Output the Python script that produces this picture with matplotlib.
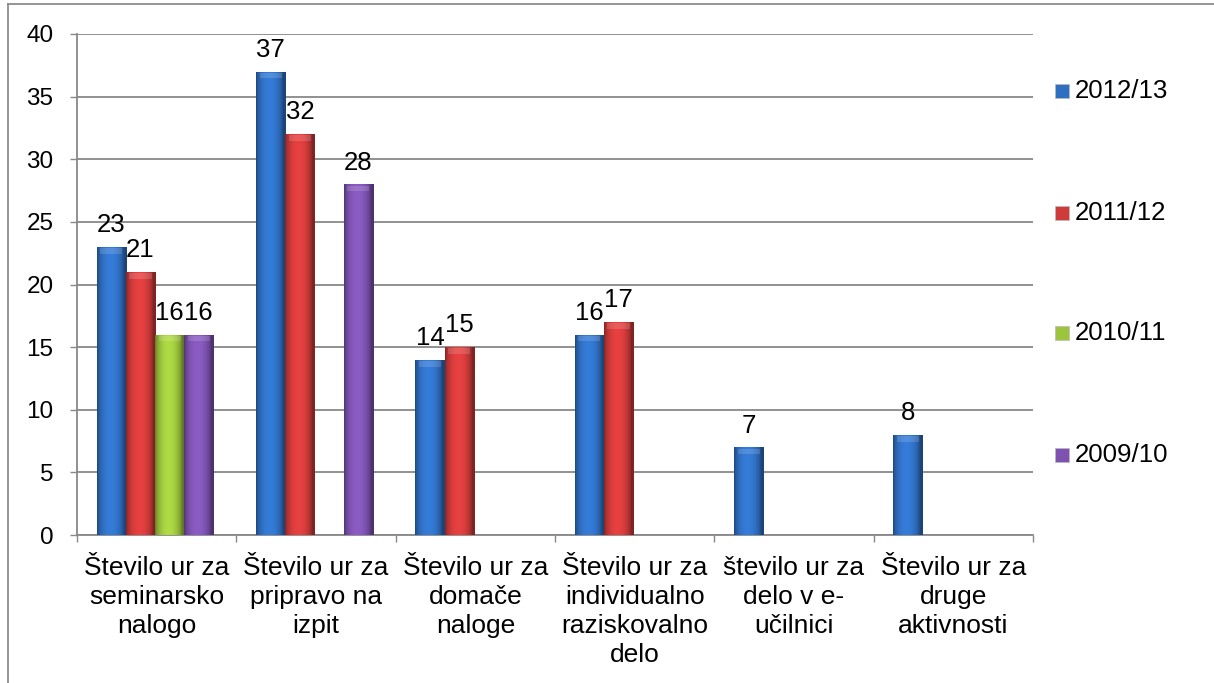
import matplotlib
matplotlib.use("Agg")
import matplotlib.pyplot as plt
import numpy as np
from matplotlib.patches import Rectangle
from matplotlib.lines import Line2D

plt.rcParams['font.family'] = ['Liberation Sans', 'DejaVu Sans']

categories = [
    "Število ur za\nseminarsko\nnalogo",
    "Število ur za\npripravo na\nizpit",
    "Število ur za\ndomače\nnaloge",
    "Število ur za\nindividualno\nraziskovalno\ndelo",
    "število ur za\ndelo v e-\nučilnici",
    "Število ur za\ndruge\naktivnosti",
]
series = ["2012/13", "2011/12", "2010/11", "2009/10"]
v_2012 = [23, 37, 14, 16, 7, 8]
v_2011 = [21, 32, 15, 17, None, None]
v_2010 = [16, None, None, None, None, None]
v_2009 = [16, 28, None, None, None, None]
values = [v_2012, v_2011, v_2010, v_2009]
colors = ["#2f6fc2", "#cf3a3a", "#9cc43c", "#7d52b0"]

W, H = 1214, 683


def shaded_bar(ax, x, w, h, color):
    rect = Rectangle((x - w / 2, 0), w, h, facecolor=color, edgecolor="none", zorder=3)
    ax.add_patch(rect)
    base = np.array(matplotlib.colors.to_rgb(color))
    t = np.linspace(0, 1, 60)
    shade = 0.62 + 0.5 * np.sin(np.pi * np.clip(t * 1.1, 0, 1)) ** 0.6
    img = np.clip(base[None, :] * shade[:, None], 0, 1)[None, :, :]
    im = ax.imshow(img, extent=(x - w / 2, x + w / 2, 0, h), aspect="auto",
                   interpolation="bilinear", zorder=3)
    im.set_clip_path(rect)
    # soft highlight on the rounded top
    cap = Rectangle((x - w / 2 + w * 0.12, h - 0.55), w * 0.76, 0.45, facecolor="white",
                    alpha=0.15, edgecolor="none", zorder=4)
    ax.add_patch(cap)


fig = plt.figure(figsize=(W / 100, H / 100), dpi=100)
ax = fig.add_axes([77 / W, 1 - 535 / H, (1033 - 77) / W, (535 - 34) / H])

bw = 0.183
x = np.arange(len(categories))
for si, (vals, col) in enumerate(zip(values, colors)):
    off = (si - 1.5) * bw
    for ci, v in enumerate(vals):
        if v is None:
            continue
        shaded_bar(ax, ci + off - 0.01, bw, v, col)
        ax.annotate(str(v), (ci + off - 0.01, v), xytext=(0, 7), textcoords="offset points",
                    ha="center", va="bottom", fontsize=18.5, zorder=5)

ax.set_xlim(-0.5, len(categories) - 0.5)
ax.set_ylim(0, 40)
ax.set_yticks(range(0, 41, 5))
ax.yaxis.grid(True, color="#888888", linewidth=1.3, zorder=0)
ax.set_axisbelow(True)

ax.set_xticks(x)
ax.set_xticklabels(categories, fontsize=19, linespacing=1.27)
ax.set_xticks(np.arange(-0.5, len(categories)), minor=True)
ax.tick_params(axis="x", which="major", length=0, pad=15)
ax.tick_params(axis="x", which="minor", length=5, color="#888888", width=1)
ax.tick_params(axis="y", length=5, color="#888888", width=1, labelsize=17.5, pad=12)

for s in ["top", "right"]:
    ax.spines[s].set_visible(False)
for s in ["left", "bottom"]:
    ax.spines[s].set_color("#888888")
    ax.spines[s].set_linewidth(1.3)

# legend
leg_y = [91, 213, 333, 455]
for lab, col, yy in zip(series, colors, leg_y):
    fig.add_artist(Rectangle((1055 / W, 1 - (yy + 7) / H), 14 / W, 14 / H,
                             transform=fig.transFigure, facecolor=col,
                             edgecolor="#bbbbbb", linewidth=0.5))
    fig.text(1075 / W, 1 - yy / H, lab, fontsize=18.6, va="center", ha="left")

# outer chart frame
fig.add_artist(Line2D([8 / W, 8 / W], [0, 1 - 4 / H], color="#8c8c8c", linewidth=1.3))
fig.add_artist(Line2D([8 / W, 1], [1 - 4 / H, 1 - 4 / H], color="#8c8c8c", linewidth=1.3))

fig.savefig("out.png", dpi=100)
